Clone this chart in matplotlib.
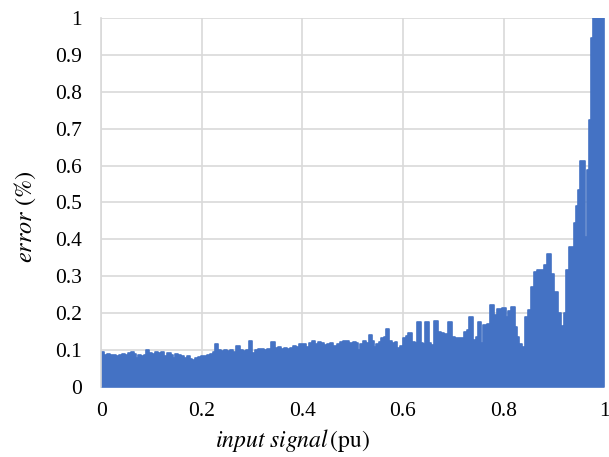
import matplotlib
matplotlib.use("Agg")
import matplotlib.pyplot as plt
import numpy as np

plt.rcParams['font.family'] = ['Liberation Serif', 'DejaVu Serif']
plt.rcParams['mathtext.fontset'] = 'stix'

# envelope of the error trace (step-wise)
signal = [0.000, 0.006, 0.012, 0.018, 0.024, 0.030, 0.036, 0.042, 0.048, 0.054,
          0.060, 0.066, 0.070, 0.074, 0.080, 0.086, 0.090, 0.096, 0.102, 0.108,
          0.114, 0.120, 0.126, 0.132, 0.138, 0.142, 0.146, 0.152, 0.158, 0.164,
          0.170, 0.176, 0.180, 0.186, 0.192, 0.198, 0.204, 0.210, 0.216, 0.222,
          0.226, 0.232, 0.238, 0.244, 0.250, 0.256, 0.262, 0.268, 0.276, 0.282,
          0.288, 0.294, 0.300, 0.306, 0.312, 0.318, 0.324, 0.330, 0.338, 0.346,
          0.352, 0.358, 0.364, 0.370, 0.376, 0.382, 0.388, 0.394, 0.402, 0.408,
          0.414, 0.420, 0.426, 0.432, 0.438, 0.444, 0.450, 0.456, 0.462, 0.468,
          0.474, 0.480, 0.486, 0.492, 0.500, 0.506, 0.510, 0.514, 0.520, 0.526,
          0.532, 0.538, 0.542, 0.546, 0.552, 0.556, 0.562, 0.566, 0.572, 0.578,
          0.584, 0.588, 0.594, 0.600, 0.606, 0.610, 0.618, 0.624, 0.628, 0.636,
          0.640, 0.644, 0.652, 0.656, 0.662, 0.670, 0.676, 0.682, 0.690, 0.698,
          0.704, 0.710, 0.716, 0.722, 0.728, 0.732, 0.740, 0.746, 0.750, 0.756,
          0.760, 0.768, 0.774, 0.782, 0.788, 0.796, 0.804, 0.808, 0.814, 0.822,
          0.826, 0.830, 0.836, 0.842, 0.848, 0.854, 0.860, 0.866, 0.874, 0.880,
          0.886, 0.894, 0.900, 0.908, 0.914, 0.918, 0.921, 0.924, 0.930, 0.940,
          0.944, 0.948, 0.952, 0.962, 0.966, 0.970, 0.974, 0.978, 1.000]
error = [0.095, 0.088, 0.090, 0.086, 0.088, 0.085, 0.087, 0.090, 0.088, 0.092,
         0.094, 0.090, 0.078, 0.088, 0.085, 0.087, 0.100, 0.093, 0.090, 0.094,
         0.092, 0.096, 0.085, 0.092, 0.088, 0.080, 0.089, 0.088, 0.085, 0.080,
         0.083, 0.076, 0.072, 0.079, 0.082, 0.084, 0.083, 0.087, 0.090, 0.094,
         0.116, 0.100, 0.098, 0.100, 0.097, 0.100, 0.095, 0.112, 0.100, 0.099,
         0.100, 0.124, 0.093, 0.100, 0.102, 0.104, 0.100, 0.104, 0.121, 0.106,
         0.108, 0.104, 0.106, 0.102, 0.106, 0.110, 0.108, 0.118, 0.116, 0.108,
         0.120, 0.124, 0.118, 0.122, 0.120, 0.114, 0.118, 0.120, 0.112, 0.118,
         0.122, 0.124, 0.126, 0.120, 0.123, 0.120, 0.100, 0.118, 0.125, 0.120,
         0.141, 0.125, 0.109, 0.118, 0.122, 0.133, 0.135, 0.157, 0.126, 0.120,
         0.123, 0.105, 0.110, 0.133, 0.137, 0.147, 0.122, 0.120, 0.176, 0.120,
         0.118, 0.176, 0.120, 0.114, 0.180, 0.148, 0.146, 0.144, 0.177, 0.135,
         0.134, 0.133, 0.134, 0.150, 0.155, 0.189, 0.127, 0.135, 0.177, 0.119,
         0.168, 0.170, 0.222, 0.195, 0.212, 0.214, 0.190, 0.205, 0.218, 0.163,
         0.136, 0.118, 0.109, 0.190, 0.209, 0.272, 0.312, 0.316, 0.318, 0.330,
         0.360, 0.305, 0.258, 0.200, 0.165, 0.100, 0.200, 0.317, 0.380, 0.444,
         0.490, 0.534, 0.611, 0.407, 0.588, 0.724, 0.946, 1.050, 1.050]

xticks = [0, 0.2, 0.4, 0.6, 0.8, 1]
xtick_labels = ['0', '0.2', '0.4', '0.6', '0.8', '1']
yticks = [0, 0.1, 0.2, 0.3, 0.4, 0.5, 0.6, 0.7, 0.8, 0.9, 1]
ytick_labels = ['0', '0.1', '0.2', '0.3', '0.4', '0.5', '0.6', '0.7', '0.8', '0.9', '1']

fig = plt.figure(figsize=(6.09, 4.57), dpi=100)
ax = fig.add_axes([0.166, 0.153, 0.826, 0.808])

ax.fill_between(signal, error, step='post', facecolor='#4472C4',
                edgecolor='#4472C4', lw=1.2, joinstyle='round', zorder=2)

ax.set_xlim(0, 1)
ax.set_ylim(0, 1)
ax.set_xticks(xticks)
ax.set_xticklabels(xtick_labels)
ax.set_yticks(yticks)
ax.set_yticklabels(ytick_labels)
ax.tick_params(axis='y', length=0, labelsize=15.5, pad=14)
ax.tick_params(axis='x', length=0, labelsize=15.5, pad=11)
ax.grid(True, color='#d9d9d9', lw=1.2, zorder=0)
ax.set_axisbelow(True)
for side in ['top', 'right', 'bottom']:
    ax.spines[side].set_visible(False)
ax.spines['left'].set_color('#d9d9d9')
ax.spines['left'].set_linewidth(1.2)

ax.set_xlabel(r'$\mathit{input\ signal}\,\left(\mathrm{pu}\right)$', fontsize=17)
ax.xaxis.set_label_coords(0.38, -0.145)
ax.xaxis.label.set_va('center')
ax.set_ylabel(r'$\mathit{error}\ \left(\%\right)$', fontsize=17.5)
ax.yaxis.set_label_coords(-0.151, 0.46)
ax.yaxis.label.set_va('center')

fig.savefig('out.png', dpi=100)
